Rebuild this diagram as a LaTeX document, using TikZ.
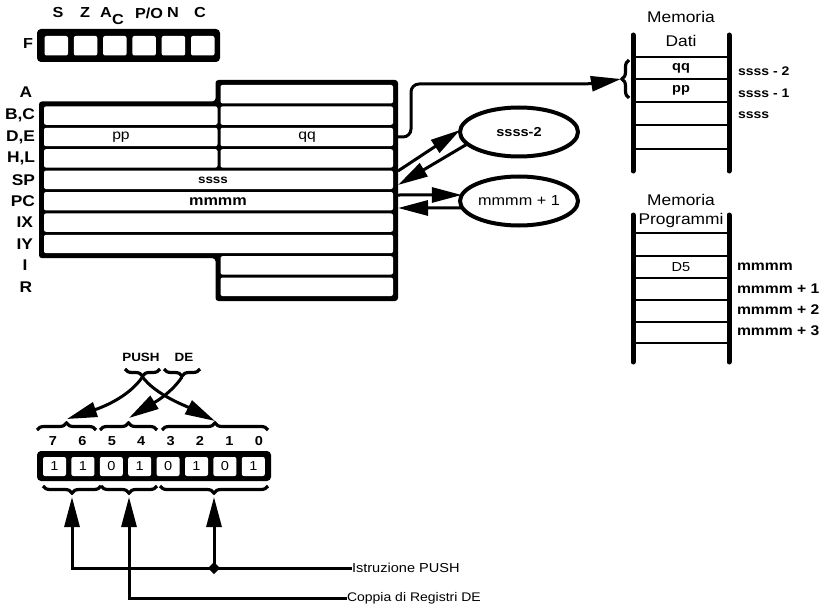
\documentclass[tikz,border=0pt]{standalone}
\usepackage{fontspec}
\setmainfont{Liberation Sans}[FakeStretch=1.12]
\usetikzlibrary{arrows.meta,decorations.pathreplacing,shapes.geometric,fit,calc}
\newcommand{\fsz}[1]{\fontsize{#1}{#1}\selectfont}
\newcommand{\rc}[5]{\node[cellw, fit={(#2,#3) (#4,#5)}] (#1) {};}
\begin{document}
\begin{tikzpicture}[x=1pt,y=-1pt,
  every node/.style={inner sep=0pt, outer sep=0pt},
  rlbl/.style={font=\fsz{15.5}\bfseries},
  cellw/.style={fill=white, rounded corners=2pt, inner sep=0pt, draw=none},
  conn/.style={line width=3pt, -{Triangle[length=30pt,width=15pt]}},
  brc/.style={decorate, decoration={brace, amplitude=7pt, aspect=0.5}, line width=3.2pt},
  memlbl/.style={font=\fsz{12.5}\bfseries, anchor=west},
  pmlbl/.style={font=\fsz{14}\bfseries, anchor=west},
  ttl/.style={font=\fsz{15.5}},
  ell/.style={ellipse, draw, line width=4pt, minimum width=118pt, minimum height=49pt},
  bar/.style={line width=5pt, line cap=round},
  hline/.style={line width=2.8pt},
  flg/.style={font=\fsz{14.5}\bfseries},
  bitn/.style={font=\fsz{13}\bfseries},
  bitv/.style={font=\fsz{13}},
]
\useasboundingbox (0,0) rectangle (830,607);

% ---------- Flags ----------
\node[flg] (lF) at (28,44) {F};
\fill[rounded corners=4pt] (37,29) rectangle (220,62);
\foreach \i in {0,...,5}{
  \pgfmathsetmacro{\xa}{44.5+29.3*\i}
  \pgfmathsetmacro{\xb}{\xa+23.5}
  \rc{f\i}{\xa}{36}{\xb}{55.5}
}
\node[flg] (fS) at (58,13) {S};
\node[flg] (fZ) at (85,13) {Z};
\node[flg] (fA) at (106,13) {A};
\node[flg] (fAC) at (118,20) {C};
\node[flg] (fP) at (149,13) {P/O};
\node[flg] (fN) at (173,13) {N};
\node[flg] (fC) at (200,13) {C};

% ---------- Register block ----------
\fill[rounded corners=3pt] (215.5,80) -- (398,80) -- (398,301) -- (215.5,301)
  -- (215.5,258.2) -- (39,258.2) -- (39,101.4) -- (215.5,101.4) -- cycle;
\rc{cA}{220.5}{85}{393}{103.4}
\rc{cBl}{44}{106.4}{217.5}{124.8}
\rc{cBr}{220.5}{106.4}{393}{124.8}
\rc{cDl}{44}{127.8}{217.5}{146.2}
\rc{cDr}{220.5}{127.8}{393}{146.2}
\rc{cHl}{44}{149.2}{217.5}{167.6}
\rc{cHr}{220.5}{149.2}{393}{167.6}
\rc{cSP}{44}{170.6}{393}{189}
\rc{cPC}{44}{192}{393}{210.4}
\rc{cIX}{44}{213.4}{393}{231.8}
\rc{cIY}{44}{234.8}{393}{253.2}
\rc{cI}{220.5}{256.2}{393}{274.6}
\rc{cR}{220.5}{277.6}{393}{296}

\node[rlbl] (lA) at (26,92) {A};
\node[rlbl, anchor=east] (lBC) at (35,115.6) {B,C};
\node[rlbl, anchor=east] (lDE) at (35,137) {D,E};
\node[rlbl, anchor=east] (lHL) at (35,158.4) {H,L};
\node[rlbl, anchor=east] (lSP) at (35,179.8) {SP};
\node[rlbl, anchor=east] (lPC) at (35,201.2) {PC};
\node[rlbl, anchor=east] (lIX) at (33,222.6) {IX};
\node[rlbl, anchor=east] (lIY) at (33,244) {IY};
\node[rlbl] (lI) at (25,265.4) {I};
\node[rlbl] (lR) at (26,286.8) {R};

\node[font=\fsz{14}] (tpp) at (121,137) {pp};
\node[font=\fsz{14}] (tqq) at (307,137) {qq};
\node[font=\fsz{12}\bfseries] (tss) at (213,180) {ssss};
\node[font=\fsz{14.5}\bfseries] (tmm) at (218,201.5) {mmmm};

% ---------- Ellipses ----------
\node[ell, font=\fsz{13}\bfseries] (e1) at (519,132) {ssss-2};
\node[ell, font=\fsz{14.5}] (e2) at (519,201) {mmmm + 1};

\coordinate (rDE) at (398,137);
\coordinate (rS1) at (398,171);
\coordinate (rS2) at (398,185);
\coordinate (rP1) at (398,195);
\coordinate (rP2) at (398,208);

\draw[conn] (rS1) -- (e1.178);
\draw[conn] (e1.193) -- (rS2);
\draw[conn] (rP1) -- (e2.174);
\draw[conn] (e2.187) -- (rP2);

% ---------- Memoria Dati ----------
\node[ttl] (mdT1) at (681,17) {Memoria};
\node[ttl] (mdT2) at (681,41) {Dati};
\draw[bar] (633,35) -- (633,171);
\draw[bar] (729,35) -- (729,171);
\foreach \y in {57,79,102,125,149}{\draw[hline] (633,\y) -- (729,\y);}
\node[font=\fsz{13}\bfseries] (mqq) at (681,68) {qq};
\node[font=\fsz{13}\bfseries] (mpp) at (681,90.5) {pp};
\node[memlbl] (ms2) at (738,71) {ssss - 2};
\node[memlbl] (ms1) at (738,93) {ssss - 1};
\node[memlbl] (ms0) at (738,115) {ssss};
\draw[brc] (629,98) -- (629,60);
\coordinate (bD) at (621,79);
\draw[conn, rounded corners=8pt] (rDE) -- (411,137) -- (411,84) -- (590,84) -- (bD);

% ---------- Memoria Programmi ----------
\node[ttl] (mpT1) at (681,200) {Memoria};
\node[ttl] (mpT2) at (681,220) {Programmi};
\draw[bar] (633,215) -- (633,362);
\draw[bar] (729,215) -- (729,362);
\foreach \y in {233,256,278,300,322,343}{\draw[hline] (633,\y) -- (729,\y);}
\node[font=\fsz{13}] (mD5) at (681,267) {D5};
\node[pmlbl] (pm0) at (737,267) {mmmm};
\node[pmlbl] (pm1) at (737,289) {mmmm + 1};
\node[pmlbl] (pm2) at (737,310) {mmmm + 2};
\node[pmlbl] (pm3) at (737,331) {mmmm + 3};

% ---------- PUSH DE ----------
\node[font=\fsz{12}\bfseries] (tPUSH) at (141,357) {PUSH};
\node[font=\fsz{12}\bfseries] (tDE) at (184,357) {DE};
\draw[brc] (160,369) -- (125,369);
\draw[brc] (200,369) -- (164,369);
\coordinate (pP) at (142.5,377);
\coordinate (pD) at (182,377);

% top braces over bits
\draw[brc] (37,430) -- (96,430);
\draw[brc] (100,430) -- (157,430);
\draw[brc] (162,430) -- (268,430);
\coordinate (u76) at (67,419);
\coordinate (u54) at (129,418);
\coordinate (u30) at (215,421);

\draw[conn] (pP) .. controls (128,398) and (100,408) .. (u76);
\draw[conn] (pP) .. controls (156,395) and (186,406) .. (u30);
\draw[conn] (pD) .. controls (170,395) and (150,405) .. (u54);

% ---------- Bit box ----------
\fill[rounded corners=4pt] (37,451) rectangle (271,481);
\foreach \v [count=\i from 0] in {1,1,0,1,0,1,0,1}{
  \pgfmathsetmacro{\xa}{43+28.4*\i}
  \pgfmathsetmacro{\xb}{\xa+23}
  \rc{b\i}{\xa}{457}{\xb}{476}
  \node[bitv] (bv\i) at (b\i) {\v};
}
\foreach \n [count=\i from 0] in {7,6,5,4,3,2,1,0}{
  \pgfmathsetmacro{\xn}{53+29.4*\i}
  \node[bitn] (bn\i) at (\xn,441) {\n};
}

% bottom braces
\draw[brc] (101,486) -- (43,486);
\draw[brc] (157,486) -- (101,486);
\draw[brc] (268,486) -- (160,486);
\coordinate (t76) at (72,497);
\coordinate (t54) at (129,497);
\coordinate (t30) at (214,497);

\node[font=\fsz{13}, anchor=west] (istr) at (352,568) {Istruzione PUSH};
\node[font=\fsz{12.5}, anchor=west] (copp) at (347,598) {Coppia di Registri DE};
\coordinate (c1) at (72,568);
\coordinate (c2) at (129,598);
\coordinate (c3) at (214,568);
\draw[conn, line join=miter] (istr.west) -- (c1) -- (t76);
\draw[conn] (c3) -- (t30);
\draw[conn, line join=miter] (copp.west) -- (c2) -- (t54);
\node[diamond, fill, minimum size=12pt] (jd) at (c3) {};
\end{tikzpicture}
\end{document}
